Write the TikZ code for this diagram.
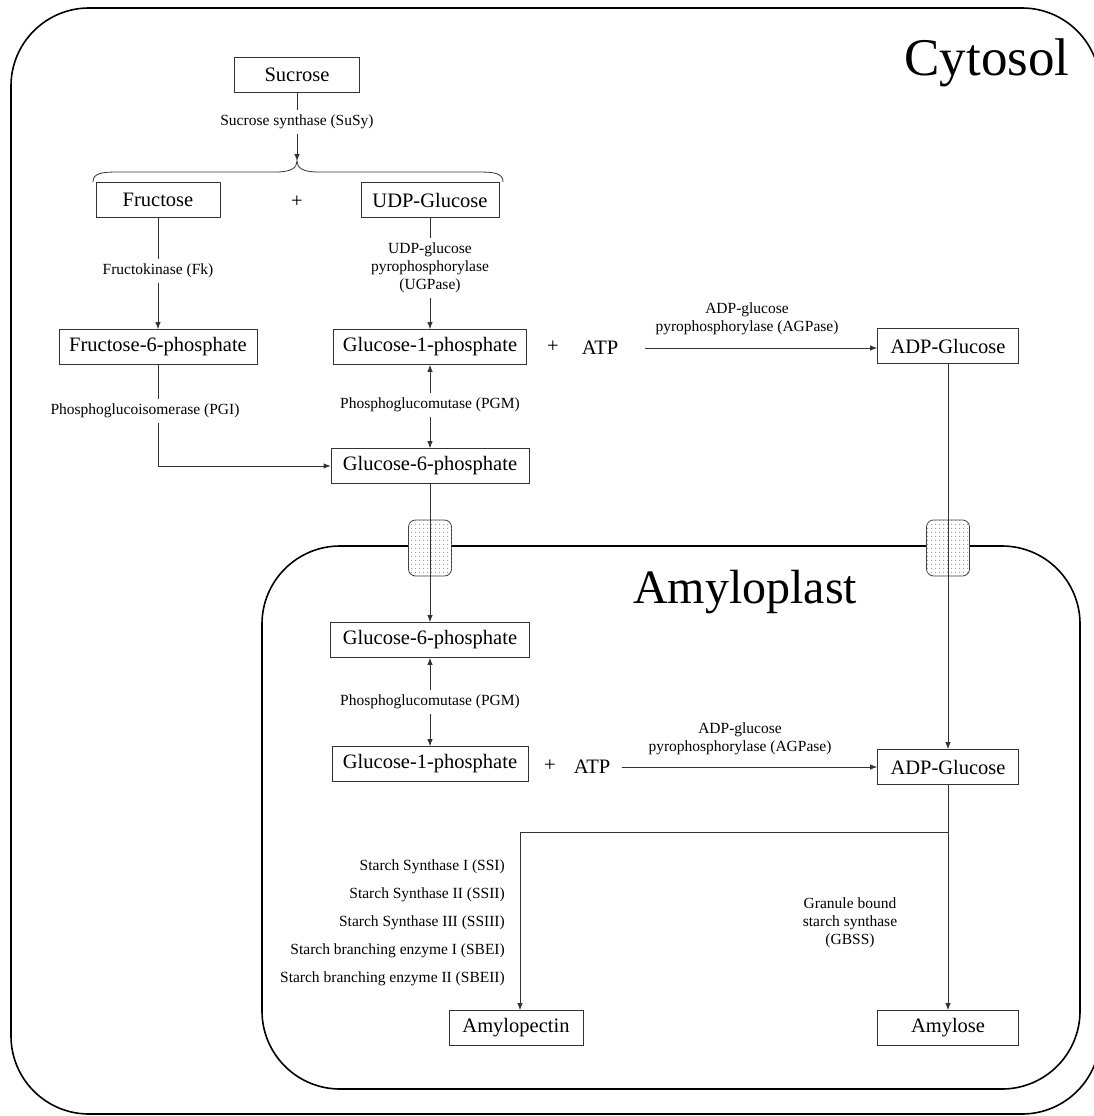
\documentclass[tikz,border=0pt]{standalone}
\usepackage{fontspec}
\setmainfont{Liberation Serif}
\usetikzlibrary{arrows.meta,patterns.meta,calc}
\begin{document}
\begin{tikzpicture}[x=1pt,y=-1pt,
  bigfont/.style={font=\fontsize{20.5}{24}\selectfont},
  smallfont/.style={font=\fontsize{15.5}{18}\selectfont},
  box/.style={draw=black!80,line width=0.8pt,bigfont,minimum height=35pt,inner sep=2pt},
  lbl/.style={smallfont,inner sep=5pt,align=center},
  conn/.style={draw=black!80,line width=0.8pt},
  arr/.style={conn,-{Latex[length=7pt,width=5.5pt]}},
  membrane/.style={draw=black,line width=1.6pt,rounded corners=78pt},
  transporter/.style={draw=black!75,line width=0.8pt,rounded corners=7pt,minimum width=43pt,minimum height=56pt,inner sep=0pt,fill=white,postaction={pattern={Dots[distance=4pt,radius=0.75pt]},pattern color=gray!85}}
]
\useasboundingbox (0,0) rectangle (1094,1116);
% compartments
\draw[membrane] (11,8) rectangle (1100,1114);
\draw[membrane] (262,546) rectangle (1080,1089);
\node[font=\fontsize{53}{57}\selectfont] (cyto) at (987,63) {Cytosol};
\node[font=\fontsize{48}{52}\selectfont] (amylo) at (745,592) {Amyloplast};
% transporters
\node[transporter] (t1) at (430,548) {};
\node[transporter] (t2) at (948,548) {};
% boxes
\node[box,minimum width=125pt] (sucrose) at (297,75) {Sucrose};
\node[box,minimum width=124pt] (fructose) at (158,200) {Fructose};
\node[bigfont] (plus1) at (297,202) {+};
\node[box,minimum width=138pt] (udpg) at (430,200) {UDP-Glucose};
\node[box,minimum width=198pt] (f6p) at (158,347) {Fructose-6-phosphate};
\node[box,minimum width=193pt] (g1p) at (430,347) {Glucose-1-phosphate};
\node[bigfont] (plus2) at (553,347) {+};
\node[bigfont] (atp1) at (600,348) {ATP};
\node[box,minimum width=141pt] (adpg) at (948,346) {ADP-Glucose};
\node[box,minimum width=198pt] (g6p) at (430,466) {Glucose-6-phosphate};
\node[box,minimum width=199pt] (g6pa) at (430,640) {Glucose-6-phosphate};
\node[box,minimum width=196pt] (g1pa) at (430,764) {Glucose-1-phosphate};
\node[bigfont] (plus3) at (550,766) {+};
\node[bigfont] (atp2) at (592,767) {ATP};
\node[box,minimum width=141pt] (adpga) at (948,767) {ADP-Glucose};
\node[box,minimum width=134pt] (amylopectin) at (516,1028) {Amylopectin};
\node[box,minimum width=141pt] (amylose) at (948,1028) {Amylose};
% labels
\node[lbl] (susy) at (297,122) {Sucrose synthase (SuSy)};
\node[lbl] (fk) at (158,271) {Fructokinase (Fk)};
\node[lbl] (ugp) at (430,268) {UDP-glucose\\pyrophosphorylase\\(UGPase)};
\node[lbl] (agp1) at (747,319) {ADP-glucose\\pyrophosphorylase (AGPase)};
\node[lbl] (pgm1) at (430,405) {Phosphoglucomutase (PGM)};
\node[lbl] (pgi) at (145,411) {Phosphoglucoisomerase (PGI)};
\node[lbl] (pgm2) at (430,702) {Phosphoglucomutase (PGM)};
\node[lbl] (agp2) at (740,739) {ADP-glucose\\pyrophosphorylase (AGPase)};
\node[lbl,align=right,anchor=east] (ss) at (510,923) {Starch Synthase I (SSI)\\[10pt]Starch Synthase II (SSII)\\[10pt]Starch Synthase III (SSIII)\\[10pt]Starch branching enzyme I (SBEI)\\[10pt]Starch branching enzyme II (SBEII)};
\node[lbl] (gbss) at (850,923) {Granule bound\\starch synthase\\(GBSS)};
% brace
\coordinate (btip) at (297,161);
\coordinate (bl) at (93,182);
\coordinate (br) at (503,182);
\draw[conn] (bl) .. controls (93,173) and (102,172) .. (118,172) -- (276,172) .. controls (291,172) and (297,168) .. (btip) .. controls (297,168) and (303,172) .. (318,172) -- (478,172) .. controls (494,172) and (503,173) .. (br);
% connectors
\draw[conn] (sucrose) -- (susy);
\draw[arr] (susy) -- (btip);
\draw[conn] (fructose) -- (fk);
\draw[arr] (fk) -- (f6p);
\draw[conn] (udpg) -- (ugp);
\draw[arr] (ugp) -- (g1p);
\coordinate (a1s) at (645,348);
\draw[arr] (a1s) -- (adpg.west |- a1s);
\draw[conn,{Latex[length=7pt,width=5.5pt]}-] (g1p) -- (pgm1);
\draw[arr] (pgm1) -- (g6p);
\draw[conn] (f6p.south) -- (f6p.south |- pgi.north);
\draw[arr] (f6p.south |- pgi.south) |- (g6p.west);
\draw[arr] (g6p) -- (g6pa);
\draw[arr] (adpg) -- (adpga);
\draw[conn,{Latex[length=7pt,width=5.5pt]}-] (g6pa) -- (pgm2);
\draw[arr] (pgm2) -- (g1pa);
\coordinate (a2s) at (622,767);
\draw[arr] (a2s) -- (adpga.west |- a2s);
\coordinate (split) at (948,832);
\draw[arr] (adpga.south) -- (split) -| ([xshift=4pt]amylopectin.north);
\draw[arr] (split) -- (amylose);
\end{tikzpicture}
\end{document}
